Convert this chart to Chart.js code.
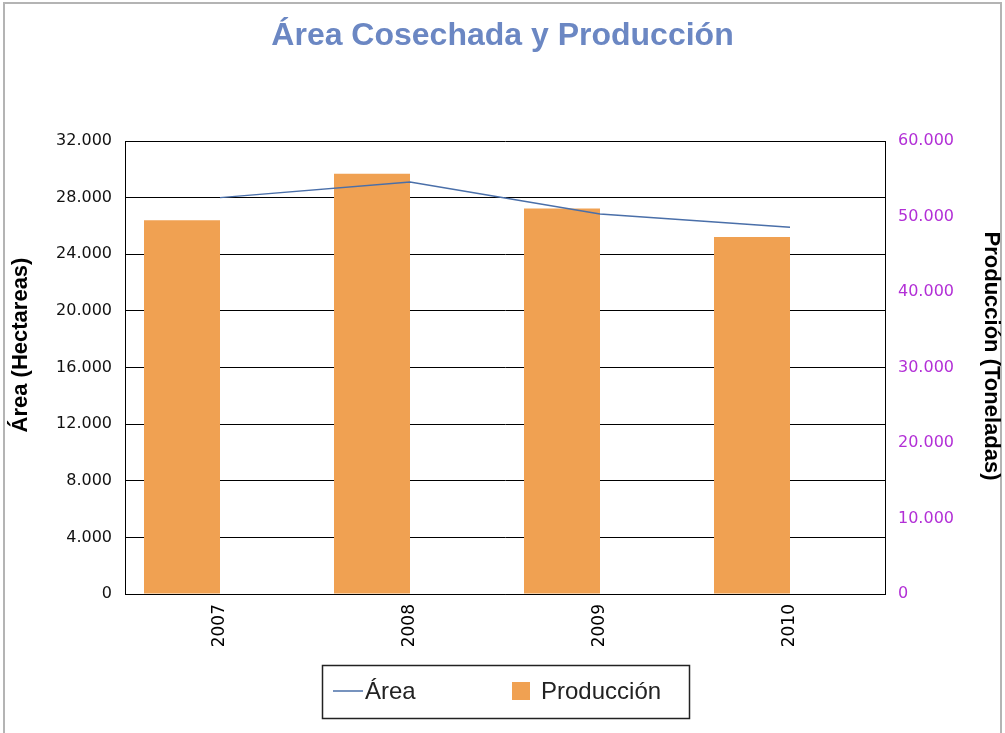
<!DOCTYPE html>
<html>
<head>
<meta charset="utf-8">
<script src="https://cdn.jsdelivr.net/npm/chart.js@4.4.0/dist/chart.umd.min.js"></script>
<style>
  html, body { margin: 0; padding: 0; background: #fff; overflow: hidden; }
  #frame { position: absolute; left: 3px; top: 2px; width: 999px; height: 760px; border: 2px solid #b4b4b4; box-sizing: border-box; }
  #wrap { position: absolute; left: 0; top: 0; width: 1005px; height: 733px; }
</style>
</head>
<body>
<div id="frame"></div>
<div id="wrap"><canvas id="chart"></canvas></div>
<script>
// ---- data ----
const years = ['2007', '2008', '2009', '2010'];
const areaHa = [28000, 29100, 26850, 25900];          // left axis, line
const produccionTon = [49500, 55650, 51050, 47300];   // right axis, bars
const spacer = [null, null, null, null];              // empty slot so bars sit left of the year

const areaAxis = { min: 0, max: 32000, step: 4000 };
const prodAxis = { min: 0, max: 60000, step: 10000 };

const TITLE = 'Área Cosechada y Producción';
const LEFT_TITLE = 'Área (Hectareas)';
const RIGHT_TITLE = 'Producción (Toneladas)';

const LINE_COLOR = '#4a6fa9';
const BAR_COLOR = '#f0a152';
const PURPLE = '#b22fd6';
const SANS = '"Liberation Sans", Arial, sans-serif';
const TICK_FONT = '"DejaVu Sans", sans-serif';

// 32000 -> 32.000
const fmt = v => String(v).replace(/\B(?=(\d{3})+(?!\d))/g, '.');

// axis titles + boxed legend like the original
const extras = {
  id: 'extras',
  afterDraw(chart) {
    const ctx = chart.ctx;
    ctx.save();
    ctx.fillStyle = '#000';
    ctx.font = 'bold 22px ' + SANS;
    ctx.textAlign = 'center';
    ctx.textBaseline = 'middle';

    ctx.save();
    ctx.translate(21, 345);
    ctx.rotate(-Math.PI / 2);
    ctx.fillText(LEFT_TITLE, 0, 0);
    ctx.restore();

    ctx.save();
    ctx.translate(991, 356);
    ctx.rotate(Math.PI / 2);
    ctx.fillText(RIGHT_TITLE, 0, 0);
    ctx.restore();

    // legend
    const line = chart.data.datasets[0];
    const bar = chart.data.datasets[1];
    ctx.strokeStyle = '#222';
    ctx.lineWidth = 1.5;
    ctx.strokeRect(322.5, 665.5, 367, 53);

    ctx.strokeStyle = line.borderColor;
    ctx.lineWidth = 1.5;
    ctx.beginPath();
    ctx.moveTo(333, 691);
    ctx.lineTo(363, 691);
    ctx.stroke();

    ctx.fillStyle = bar.backgroundColor;
    ctx.fillRect(512, 682, 18, 18);

    ctx.fillStyle = '#222';
    ctx.font = '24px ' + SANS;
    ctx.textAlign = 'left';
    ctx.fillText(line.label, 365, 692);
    ctx.fillText(bar.label, 541, 692);
    ctx.restore();
  }
};

new Chart(document.getElementById('chart'), {
  data: {
    labels: years,
    datasets: [
      {
        type: 'line',
        label: 'Área',
        data: areaHa,
        yAxisID: 'y',
        borderColor: LINE_COLOR,
        borderWidth: 1.5,
        pointRadius: 0,
        tension: 0,
        order: 0
      },
      {
        type: 'bar',
        label: 'Producción',
        data: produccionTon,
        yAxisID: 'y1',
        backgroundColor: BAR_COLOR,
        borderWidth: 0,
        categoryPercentage: 0.8,
        barPercentage: 1.0,
        order: 1
      },
      {
        type: 'bar',
        label: '',
        data: spacer,
        yAxisID: 'y1',
        backgroundColor: 'rgba(0,0,0,0)',
        categoryPercentage: 0.8,
        barPercentage: 1.0,
        order: 2
      }
    ]
  },
  options: {
    responsive: true,
    maintainAspectRatio: false,
    animation: false,
    layout: { padding: { left: 0, right: 0, top: 0, bottom: 69 } },
    plugins: {
      legend: { display: false },
      tooltip: { enabled: false },
      title: {
        display: true,
        text: TITLE,
        color: '#6b87c3',
        font: { family: SANS, size: 32, weight: 'bold', lineHeight: 1.2 },
        padding: { top: 17, bottom: 85.6 }
      }
    },
    scales: {
      x: {
        offset: true,
        grid: { display: false, drawTicks: false },
        border: { display: true, color: '#000', width: 1 },
        ticks: {
          color: '#000',
          font: { family: TICK_FONT, size: 17 },
          minRotation: 90,
          maxRotation: 90,
          padding: 10
        },
        afterFit: s => { s.height = 70; }
      },
      y: {
        position: 'left',
        min: areaAxis.min,
        max: areaAxis.max,
        grid: { color: '#000', lineWidth: 1, drawTicks: false },
        border: { display: true, color: '#000', width: 1 },
        ticks: {
          stepSize: areaAxis.step,
          color: '#111',
          padding: 13,
          font: { family: TICK_FONT, size: 16 },
          callback: v => fmt(v)
        },
        afterFit: s => { s.width = 125; }
      },
      y1: {
        position: 'right',
        min: prodAxis.min,
        max: prodAxis.max,
        grid: { drawOnChartArea: false, drawTicks: false },
        border: { display: true, color: '#000', width: 1 },
        ticks: {
          stepSize: prodAxis.step,
          color: PURPLE,
          padding: 13,
          font: { family: TICK_FONT, size: 16 },
          callback: v => fmt(v)
        },
        afterFit: s => { s.width = 120; }
      }
    }
  },
  plugins: [extras]
});
</script>
</body>
</html>
